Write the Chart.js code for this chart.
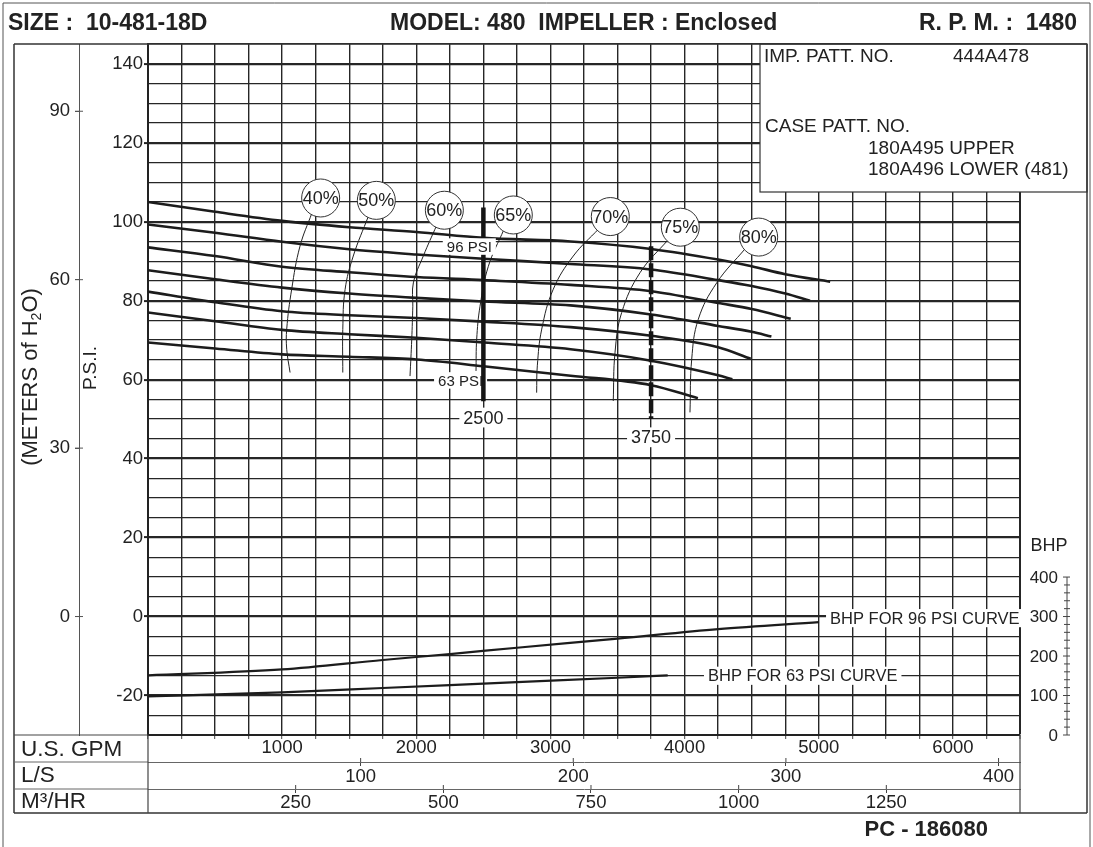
<!DOCTYPE html>
<html>
<head>
<meta charset="utf-8">
<script src="https://cdn.jsdelivr.net/npm/chart.js@4.4.1/dist/chart.umd.min.js"></script>
<style>
  body { margin: 0; background: #fff; }
  canvas { display: block; }
</style>
</head>
<body>
<canvas id="pumpChart" width="1093" height="847"></canvas>
<script>
const FONT = '"Liberation Sans", Arial, sans-serif';
const INK = '#222';

// head curves (US GPM vs PSI), one row per impeller trim
const headGpm = [0, 500, 1000, 1500, 2000, 2500, 3150, 3750, 4250, 4500, 4750];
const headPsi = [
  [105.0, 102.5, 100.2, 98.6, 97.4, 95.9, 95.0, 93.1, 90.4, 88.7, 86.7],
  [99.3, 97.2, 94.9, 93.0, 91.7, 90.6, 89.3, 87.9, 85.2, 83.7, 81.8],
  [93.5, 91.3, 88.6, 87.2, 86.0, 85.2, 84.0, 82.4, 79.4, 77.9, null],
  [87.7, 85.4, 83.3, 81.8, 80.7, 79.8, 78.8, 76.5, 73.6, 72.1, null],
  [82.3, 79.6, 77.3, 76.3, 75.6, 74.7, 73.3, 71.1, 68.2, null, null],
  [77.0, 74.8, 72.6, 71.5, 70.6, 69.4, 67.7, 64.8, 61.1, null, null],
  [69.4, 67.9, 66.4, 65.8, 65.1, 63.4, 61.0, 58.6, null, null, null]
];
const headEndGpm = [5085, 4935, 4791, 4647, 4493, 4356, 4099];
const headEndPsi = [84.8, 80.0, 75.4, 70.9, 65.3, 60.1, 55.3];

// efficiency curves
const effLabels = ['40%', '50%', '60%', '65%', '70%', '75%', '80%'];
const effLabelGpm = [1287, 1702, 2209, 2723, 3446, 3968, 4552];
const effLabelPsi = [106.0, 105.4, 102.9, 101.7, 101.3, 98.6, 96.1];
const effGpm = [
  [1223, 1133, 1071, 1034, 1034, 1059],
  [1644, 1530, 1469, 1452, 1452],
  [2152, 2052, 1978, 1974, 1966, 1953],
  [2654, 2537, 2475, 2450, 2445],
  [3360, 3170, 3021, 2935, 2902, 2897],
  [3879, 3668, 3531, 3481, 3468],
  [4455, 4239, 4102, 4053, 4040]
];
const effPsi = [
  [102.3, 93.8, 82.9, 72.8, 67.7, 61.8],
  [101.5, 91.3, 82.8, 72.7, 61.8],
  [99.1, 91.3, 84.5, 78.6, 70.2, 60.9],
  [98.1, 88.7, 78.6, 70.2, 62.2],
  [98.2, 91.3, 82.9, 72.8, 63.5, 56.7],
  [95.5, 87.1, 77.0, 66.8, 54.6],
  [93.3, 84.5, 75.3, 65.2, 51.7]
];

// duty point markers
const markerGpm = [2500, 3750];
const markerTop = [103.6, 93.8];
const markerBottom = [54.5, 50.0];
const markerText = ['2500', '3750'];
const markerTextPsi = [50.4, 45.4];
const psiLabelText = ['96 PSI', '63 PSI'];
const psiLabelGpm = [2395, 2330];
const psiLabelPsi = [93.7, 59.8];

// brake horsepower curves
const bhp96Gpm = [0, 1000, 1750, 2250, 2750, 3500, 4250, 5002];
const bhp96 = [151, 166, 190, 205, 221, 244, 268, 286];
const bhp63Gpm = [0, 1000, 1750, 2750, 3500, 3874];
const bhp63 = [98, 108, 119, 134, 145, 151];
const bhpLabelText = ['BHP FOR 96 PSI CURVE', 'BHP FOR 63 PSI CURVE'];
const bhpLabelGpm = [5084, 4174];
const bhpLabelVal = [296, 150];
const bhpTicks = [0, 100, 200, 300, 400];

// secondary flow scales
const lpsTicks = [100, 200, 300, 400];
const m3hTicks = [250, 500, 750, 1000, 1250];
const meterTicks = [0, 30, 60, 90];

const lpsPerGpm = 0.0630902;
const m3hPerGpm = 0.2271247;
const psiPerMeter = 1.4219;

const pts = (xs, ys) => xs.map((g, i) => ({ x: g, y: ys[i] })).filter(p => p.y !== null);

const datasets = [];
datasets.push({
  label: 'eff labels',
  data: pts(effLabelGpm, effLabelPsi),
  showLine: false,
  pointRadius: 19,
  pointHoverRadius: 19,
  pointBackgroundColor: '#fff',
  pointBorderColor: '#333',
  pointBorderWidth: 1,
  order: 0
});
markerGpm.forEach((g, i) => {
  datasets.push({
    label: markerText[i],
    data: [{ x: g, y: markerTop[i] }, { x: g, y: markerBottom[i] }],
    borderColor: '#151515',
    borderWidth: 4.5,
    borderDash: i === 1 ? [14, 3] : [],
    pointRadius: 0,
    order: 1
  });
});
headPsi.forEach((row, i) => {
  const d = pts(headGpm, row);
  d.push({ x: headEndGpm[i], y: headEndPsi[i] });
  datasets.push({
    label: 'head ' + (i + 1),
    data: d,
    borderColor: '#1c1c1c',
    borderWidth: 2.6,
    pointRadius: 0,
    cubicInterpolationMode: 'monotone',
    order: 2
  });
});
effGpm.forEach((xs, i) => {
  datasets.push({
    label: effLabels[i],
    data: pts(xs, effPsi[i]),
    borderColor: '#222',
    borderWidth: 1,
    pointRadius: 0,
    tension: 0.4,
    order: 2
  });
});
[[bhp96Gpm, bhp96], [bhp63Gpm, bhp63]].forEach(([xs, ys], i) => {
  datasets.push({
    label: bhpLabelText[i],
    data: pts(xs, ys),
    yAxisID: 'bhp',
    borderColor: '#1c1c1c',
    borderWidth: 2.2,
    pointRadius: 0,
    cubicInterpolationMode: 'monotone',
    order: 2
  });
});
datasets.forEach(d => { d.xAxisID = 'x'; if (!d.yAxisID) d.yAxisID = 'y'; d.fill = false; });

function boxedText(ctx, text, x, y, size, align) {
  ctx.font = size + 'px ' + FONT;
  const w = ctx.measureText(text).width;
  const left = align === 'left' ? x : x - w / 2;
  ctx.fillStyle = '#fff';
  ctx.fillRect(left - 4, y - size * 0.55, w + 8, size * 1.1);
  ctx.fillStyle = INK;
  ctx.textAlign = 'left';
  ctx.textBaseline = 'middle';
  ctx.fillText(text, left, y + 1);
}

function line(ctx, x1, y1, x2, y2, w, c) {
  ctx.beginPath();
  ctx.lineWidth = w;
  ctx.strokeStyle = c || '#333';
  ctx.moveTo(x1, y1);
  ctx.lineTo(x2, y2);
  ctx.stroke();
}

const decor = {
  id: 'decor',
  beforeDraw(chart) {
    const ctx = chart.ctx;
    ctx.save();
    ctx.fillStyle = '#fff';
    ctx.fillRect(0, 0, chart.width, chart.height);
    ctx.restore();
  },
  beforeDatasetsDraw(chart) {
    const { ctx, scales } = chart;
    const x = scales.x, y = scales.y, bhp = scales.bhp;
    ctx.save();
    markerGpm.forEach((g, i) => {
      boxedText(ctx, markerText[i], x.getPixelForValue(g), y.getPixelForValue(markerTextPsi[i]), 18, 'center');
    });
    boxedText(ctx, psiLabelText[1], x.getPixelForValue(psiLabelGpm[1]), y.getPixelForValue(psiLabelPsi[1]), 15, 'center');
    bhpLabelText.forEach((t, i) => {
      boxedText(ctx, t, x.getPixelForValue(bhpLabelGpm[i]), bhp.getPixelForValue(bhpLabelVal[i]), 16.5, 'left');
    });
    ctx.restore();
  },
  afterDatasetsDraw(chart) {
    const { ctx, scales, chartArea } = chart;
    const x = scales.x, y = scales.y, bhp = scales.bhp, meters = scales.meters;
    ctx.save();
    boxedText(ctx, psiLabelText[0], x.getPixelForValue(psiLabelGpm[0]), y.getPixelForValue(psiLabelPsi[0]), 15, 'center');

    // percent text inside the circles
    const meta = chart.getDatasetMeta(0);
    ctx.font = '18px ' + FONT;
    ctx.fillStyle = INK;
    ctx.textAlign = 'center';
    ctx.textBaseline = 'middle';
    meta.data.forEach((p, i) => ctx.fillText(effLabels[i], p.x, p.y + 1));

    const L = 14, R = 1087, T = chartArea.top, B = 813;
    const cl = chartArea.left, cr = chartArea.right, cb = chartArea.bottom;

    // pattern number box
    ctx.fillStyle = '#fff';
    ctx.fillRect(760, T, R - 760, 192 - T);
    ctx.strokeStyle = '#333';
    ctx.lineWidth = 1.2;
    ctx.strokeRect(760, T, R - 760, 192 - T);
    ctx.fillStyle = INK;
    ctx.font = '19px ' + FONT;
    ctx.textAlign = 'left';
    ctx.textBaseline = 'middle';
    ctx.fillText('IMP. PATT. NO.', 764, 57);
    ctx.fillText('444A478', 953, 57);
    ctx.fillText('CASE PATT. NO.', 765, 127);
    ctx.fillText('180A495 UPPER', 868, 149);
    ctx.fillText('180A496 LOWER (481)', 868, 170);

    // frames
    line(ctx, 3, 3, 1090, 3, 1, '#555');
    line(ctx, 3, 3, 3, 847, 1, '#555');
    line(ctx, 1090, 3, 1090, 847, 1, '#555');
    line(ctx, L, T, R, T, 1.5, '#333');
    line(ctx, L, T, L, B, 1.5, '#333');
    line(ctx, R, T, R, B, 1.5, '#333');
    line(ctx, L, B, R, B, 1.5, '#333');
    line(ctx, L, cb, cl, cb, 1.2, '#444');
    line(ctx, L, 762, cl, 762, 1, '#666');
    line(ctx, L, 789, cl, 789, 1, '#666');
    line(ctx, cl, cb, cl, B, 1.2, '#444');
    line(ctx, cr, cb, cr, B, 1.2, '#444');

    // meter ticks cross their axis line
    meterTicks.forEach(v => {
      const py = meters.getPixelForValue(v);
      line(ctx, meters.right - 4, py, meters.right + 4, py, 1, '#555');
    });
    // flow ticks cross the row separators
    lpsTicks.forEach(v => {
      const px = scales.x2.getPixelForValue(v);
      line(ctx, px, scales.x2.top - 4, px, scales.x2.top, 1, '#444');
    });
    m3hTicks.forEach(v => {
      const px = scales.x3.getPixelForValue(v);
      line(ctx, px, scales.x3.top - 4, px, scales.x3.top, 1, '#444');
    });

    // row captions
    ctx.fillStyle = INK;
    ctx.font = '22.5px ' + FONT;
    ctx.textAlign = 'left';
    ctx.fillText('U.S. GPM', 21, 750);
    ctx.fillText('L/S', 21, 776);
    ctx.fillText('M³/HR', 21, 802);

    // header
    ctx.font = 'bold 23px ' + FONT;
    ctx.textAlign = 'left';
    ctx.fillText('SIZE :  10-481-18D', 8, 24);
    ctx.fillText('MODEL: 480  IMPELLER : Enclosed', 390, 24);
    ctx.textAlign = 'right';
    ctx.fillText('R. P. M. :  1480', 1077, 24);
    ctx.font = 'bold 22px ' + FONT;
    ctx.fillText('PC - 186080', 988, 830);

    // BHP axis on the right
    const ax = 1067;
    const y0 = bhp.getPixelForValue(0), y4 = bhp.getPixelForValue(400);
    line(ctx, ax, y0, ax, y4, 1, '#444');
    for (let v = 0; v <= 400; v += 20) {
      const py = bhp.getPixelForValue(v);
      const major = v % 100 === 0;
      line(ctx, ax - (major ? 4 : 3), py, ax + 3, py, 1, '#444');
    }
    ctx.font = '17px ' + FONT;
    ctx.textAlign = 'right';
    bhpTicks.forEach(v => ctx.fillText(String(v), 1058, bhp.getPixelForValue(v) + 1));
    ctx.font = '18px ' + FONT;
    ctx.textAlign = 'center';
    ctx.fillText('BHP', 1049, 546);

    // axis titles
    ctx.save();
    ctx.translate(91, 368);
    ctx.rotate(-Math.PI / 2);
    ctx.font = '19px ' + FONT;
    ctx.textAlign = 'center';
    ctx.fillText('P.S.I.', 0, 0);
    ctx.restore();

    ctx.save();
    ctx.translate(31, 377);
    ctx.rotate(-Math.PI / 2);
    const big = '22px ' + FONT, small = '14px ' + FONT;
    ctx.font = big;
    const a = '(METERS of H', c = 'O)';
    const wa = ctx.measureText(a).width, wc = ctx.measureText(c).width;
    ctx.font = small;
    const wb = ctx.measureText('2').width;
    const sx = -(wa + wb + wc) / 2;
    ctx.textAlign = 'left';
    ctx.font = big;
    ctx.fillText(a, sx, 0);
    ctx.font = small;
    ctx.fillText('2', sx + wa, 6);
    ctx.font = big;
    ctx.fillText(c, sx + wa + wb, 0);
    ctx.restore();

    ctx.restore();
  }
};

const tickFont = { family: FONT, size: 18.5 };
const clear = 'rgba(0,0,0,0)';
const fixedTicks = list => (s => { s.ticks = list.map(v => ({ value: v })); });

new Chart(document.getElementById('pumpChart'), {
  type: 'line',
  data: { datasets },
  options: {
    responsive: false,
    animation: false,
    devicePixelRatio: 1,
    layout: { padding: { left: 14, top: 44, right: 73, bottom: 34 } },
    plugins: { legend: { display: false }, tooltip: { enabled: false } },
    scales: {
      x: {
        type: 'linear', position: 'bottom', weight: 0, min: 0, max: 6500,
        ticks: {
          stepSize: 250, autoSkip: false, maxRotation: 0, padding: -2, color: INK, font: tickFont,
          callback: v => (v > 0 && v % 1000 === 0) ? String(v) : ''
        },
        grid: { color: '#262626', lineWidth: c => (c.tick && c.tick.value === 6500) ? 2 : 1.4, tickLength: 4, tickColor: '#444', tickWidth: 1 },
        border: { display: true, color: '#222', width: 2 },
        afterFit: s => { s.height = 27; }
      },
      x2: {
        type: 'linear', axis: 'x', position: 'bottom', weight: 1, bounds: 'data', min: 0, max: 6500 * lpsPerGpm,
        afterBuildTicks: fixedTicks(lpsTicks),
        ticks: { autoSkip: false, maxRotation: 0, padding: 0, color: INK, font: tickFont, callback: v => String(v) },
        grid: { drawOnChartArea: false, tickLength: 4, tickWidth: 1, tickColor: '#444' },
        border: { display: true, color: '#666', width: 1 },
        afterFit: s => { s.height = 27; }
      },
      x3: {
        type: 'linear', axis: 'x', position: 'bottom', weight: 2, bounds: 'data', min: 0, max: 6500 * m3hPerGpm,
        afterBuildTicks: fixedTicks(m3hTicks),
        ticks: { autoSkip: false, maxRotation: 0, padding: -1, color: INK, font: tickFont, callback: v => String(v) },
        grid: { drawOnChartArea: false, tickLength: 4, tickWidth: 1, tickColor: '#444' },
        border: { display: true, color: '#666', width: 1 },
        afterFit: s => { s.height = 24; }
      },
      y: {
        type: 'linear', position: 'left', weight: 0, min: -30, max: 145,
        ticks: {
          stepSize: 5, autoSkip: false, padding: 1, color: INK, font: tickFont,
          callback: v => v % 20 === 0 ? String(v) : ''
        },
        grid: {
          color: '#262626',
          lineWidth: c => (c.tick && c.tick.value % 20 === 0) ? 2.2 : 1.3,
          tickLength: 4, tickWidth: 2,
          tickColor: c => (c.tick && c.tick.value % 20 === 0) ? '#222' : clear
        },
        border: { display: true, color: '#222', width: 2 },
        afterFit: s => { s.width = 69; }
      },
      meters: {
        type: 'linear', axis: 'y', position: 'left', weight: 1, bounds: 'data',
        min: -30 / psiPerMeter, max: 145 / psiPerMeter,
        afterBuildTicks: fixedTicks(meterTicks),
        ticks: { autoSkip: false, padding: 5, color: INK, font: tickFont, callback: v => String(v) },
        grid: { drawOnChartArea: false, tickLength: 4, tickWidth: 1, tickColor: '#555' },
        border: { display: true, color: '#555', width: 1 },
        afterFit: s => { s.width = 65; }
      },
      bhp: {
        type: 'linear', axis: 'y', position: 'right', display: false, min: 0, max: 1750
      }
    }
  },
  plugins: [decor]
});
</script>
</body>
</html>
